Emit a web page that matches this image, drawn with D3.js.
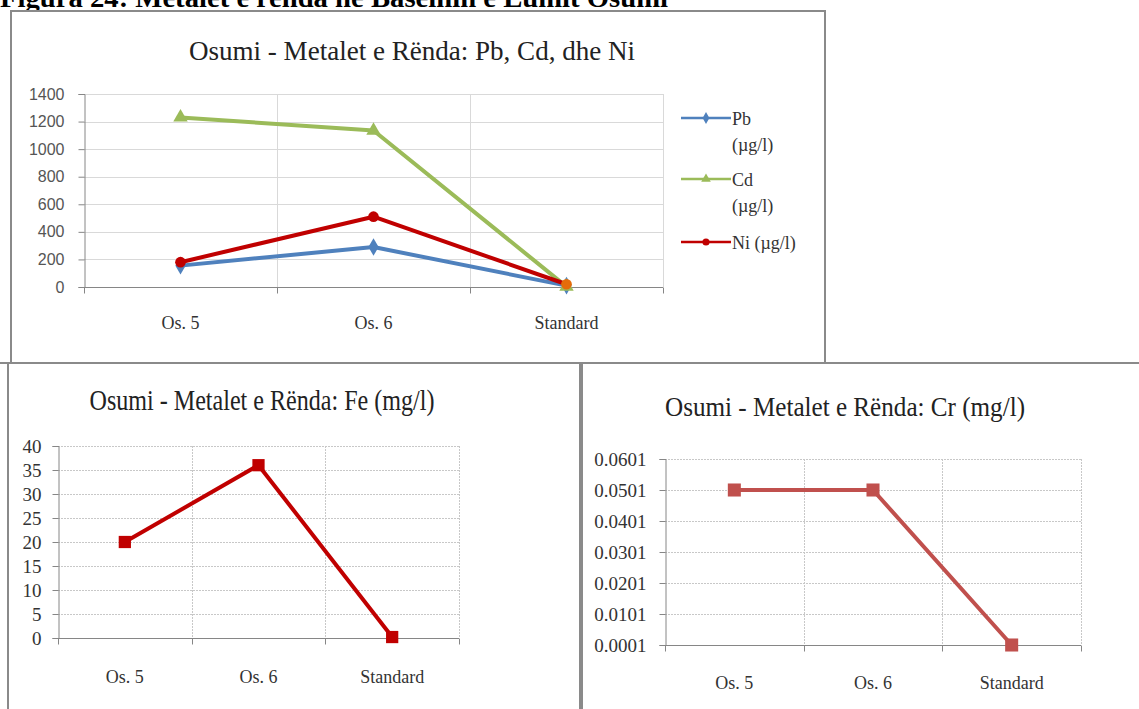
<!DOCTYPE html>
<html><head><meta charset="utf-8">
<script src="https://cdn.jsdelivr.net/npm/d3@7"></script>
<style>
html,body{margin:0;padding:0;background:#fff;overflow:hidden}
svg{display:block}
</style></head>
<body>
<svg id="c" width="1139" height="709"></svg>
<script>
// ---- data ----
const categories = ["Os. 5", "Os. 6", "Standard"];
const pbValues = [155, 290, 10];
const cdValues = [1230, 1135, 3];
const niValues = [180, 510, 20];
const feValues = [20, 36, 0.2];
const crValues = [0.0501, 0.0501, 0.0001];
const ticksTop = [0, 200, 400, 600, 800, 1000, 1200, 1400];
const ticksFe = [0, 5, 10, 15, 20, 25, 30, 35, 40];
const ticksCr = [0.0001, 0.0101, 0.0201, 0.0301, 0.0401, 0.0501, 0.0601];
const seriesTop = [
  {name: ["Pb", "(µg/l)"], values: pbValues, color: "#4F81BD", shape: "diamond"},
  {name: ["Cd", "(µg/l)"], values: cdValues, color: "#9BBB59", shape: "triangle"},
  {name: ["Ni (µg/l)"], values: niValues, color: "#C00000", shape: "circle"}
];
const header = "Figura 24: Metalet e rënda në Baseinin e Lumit Osumi";
const titleTop = "Osumi - Metalet e Rënda: Pb, Cd, dhe Ni";
const titleFe = "Osumi - Metalet e Rënda: Fe (mg/l)";
const titleCr = "Osumi - Metalet e Rënda: Cr (mg/l)";

const svg = d3.select("#c");
const serif = "'Liberation Serif','Times New Roman',serif";
const sans = "'Liberation Sans',Arial,sans-serif";

// header (cut off at top in the reference)
svg.append("text").attr("x", 0).attr("y", 7)
  .attr("font-family", serif).attr("font-weight", "bold").attr("font-size", 28)
  .attr("textLength", 668).attr("lengthAdjust", "spacingAndGlyphs")
  .attr("fill", "#000").text(header);

// frames
function frame(x, y, w, h){
  svg.append("rect").attr("x", x).attr("y", y).attr("width", w).attr("height", h)
    .attr("fill", "#fff").attr("stroke", "#8a8a8a").attr("stroke-width", 2);
}
frame(11, 11, 814, 352);
frame(8, 363, 572, 360);
frame(582, 363, 570, 360);
svg.append("line").attr("x1", 0).attr("x2", 1139).attr("y1", 363).attr("y2", 363)
  .attr("stroke", "#8a8a8a").attr("stroke-width", 2);

function symbol(shape, size){
  const t = {diamond: d3.symbolDiamond, triangle: d3.symbolTriangle, circle: d3.symbolCircle, square: d3.symbolSquare}[shape];
  return d3.symbol().type(t).size(size)();
}

function chart(o){
  const g = svg.append("g");
  const x = d3.scaleBand().domain(categories).range([o.x0, o.x1]);
  const y = d3.scaleLinear().domain(o.domain).range([o.y0, o.y1]);
  // title
  g.append("text").attr("x", o.tx).attr("y", o.ty).attr("text-anchor", "middle")
    .attr("font-family", serif).attr("font-size", o.tsize).attr("fill", "#222")
    .attr("textLength", o.tlen).attr("lengthAdjust", "spacingAndGlyphs").text(o.title);
  // horizontal grid
  g.selectAll(".hg").data(o.ticks).join("line")
    .attr("x1", o.x0).attr("x2", o.x1).attr("y1", d => Math.round(y(d)) + 0.5).attr("y2", d => Math.round(y(d)) + 0.5)
    .attr("stroke", o.dash ? "#c8c8c8" : "#d9d9d9").attr("stroke-width", 1)
    .attr("stroke-dasharray", o.dash ? "2,1" : null);
  // vertical grid at band boundaries
  const bounds = categories.map(c => x(c) + x.bandwidth());
  g.selectAll(".vg").data(bounds).join("line")
    .attr("x1", d => Math.round(d) + 0.5).attr("x2", d => Math.round(d) + 0.5)
    .attr("y1", o.y1).attr("y2", o.y0)
    .attr("stroke", o.dash ? "#c8c8c8" : "#d9d9d9").attr("stroke-dasharray", o.dash ? "2,1" : null);
  // y axis
  const ya = d3.axisLeft(y).tickValues(o.ticks).tickSize(6).tickPadding(o.ypad).tickFormat(o.fmt);
  const yg = g.append("g").attr("transform", `translate(${o.x0 + 0.5},0)`).call(ya);
  yg.select(".domain").attr("stroke", "#868686");
  yg.selectAll(".tick line").attr("stroke", "#868686");
  yg.selectAll("text").attr("font-family", o.yfont).attr("font-size", o.ysize).attr("fill", o.ycolor);
  // x axis
  const xg = g.append("g").attr("transform", `translate(0,${Math.round(o.y0) + 0.5})`);
  xg.append("line").attr("x1", o.x0).attr("x2", o.x1).attr("stroke", "#868686");
  xg.selectAll(".xt").data([o.x0].concat(bounds)).join("line")
    .attr("x1", d => Math.round(d) + 0.5).attr("x2", d => Math.round(d) + 0.5).attr("y1", 0).attr("y2", 6)
    .attr("stroke", "#868686");
  xg.selectAll(".xl").data(categories).join("text")
    .attr("x", d => x(d) + x.bandwidth() / 2).attr("y", o.xly).attr("text-anchor", "middle")
    .attr("font-family", serif).attr("font-size", o.xsize).attr("fill", "#333").text(d => d);
  // series
  const line = d3.line().x((d, i) => x(categories[i]) + x.bandwidth() / 2).y(d => y(d));
  o.series.forEach(s => {
    g.append("path").attr("d", line(s.values)).attr("fill", "none")
      .attr("stroke", s.color).attr("stroke-width", o.lw).attr("stroke-linejoin", "round");
  });
  o.series.forEach(s => {
    g.selectAll(null).data(s.values).join("path")
      .attr("transform", (d, i) => `translate(${x(categories[i]) + x.bandwidth() / 2},${y(d)})`)
      .attr("d", symbol(s.shape, o.msize))
      .attr("fill", (d, i) => (s.lastColor && i === s.values.length - 1) ? s.lastColor : s.color);
  });
  return {x, y};
}

chart({
  title: titleTop, tx: 412, ty: 60, tsize: 28, tlen: 446,
  x0: 84, x1: 663, y0: 287, y1: 94, domain: [0, 1400], ticks: ticksTop,
  fmt: d3.format("d"), yfont: sans, ysize: 16, ycolor: "#555", ypad: 14,
  xsize: 18, xly: 41, dash: false, lw: 4, msize: 90,
  series: [seriesTop[0], seriesTop[1], Object.assign({lastColor: "#E46C0A"}, seriesTop[2])]
});

// legend for top chart
const legY = [118, 179, 242];
const lg = svg.append("g");
seriesTop.forEach((s, i) => {
  lg.append("line").attr("x1", 681).attr("x2", 731).attr("y1", legY[i]).attr("y2", legY[i])
    .attr("stroke", s.color).attr("stroke-width", 2.5);
  lg.append("path").attr("transform", `translate(706,${legY[i]})`).attr("d", symbol(s.shape, 40)).attr("fill", s.color);
  s.name.forEach((t, j) => {
    lg.append("text").attr("x", 732).attr("y", legY[i] + 7 + j * 26)
      .attr("font-family", serif).attr("font-size", 18).attr("fill", "#333").text(t);
  });
});

chart({
  title: titleFe, tx: 262, ty: 410, tsize: 29, tlen: 345,
  x0: 58, x1: 459, y0: 638, y1: 446, domain: [0, 40], ticks: ticksFe,
  fmt: d3.format("d"), yfont: serif, ysize: 19, ycolor: "#333", ypad: 11,
  xsize: 18, xly: 44, dash: true, lw: 4, msize: 150,
  series: [{values: feValues, color: "#C00000", shape: "square"}]
});

chart({
  title: titleCr, tx: 845, ty: 416, tsize: 28, tlen: 360,
  x0: 665, x1: 1081, y0: 645, y1: 459, domain: [0.0001, 0.0601], ticks: ticksCr,
  fmt: d3.format(".4f"), yfont: serif, ysize: 19, ycolor: "#333", ypad: 13,
  xsize: 18, xly: 43, dash: true, lw: 4, msize: 170,
  series: [{values: crValues, color: "#C0504D", shape: "square"}]
});
</script>
</body></html>
